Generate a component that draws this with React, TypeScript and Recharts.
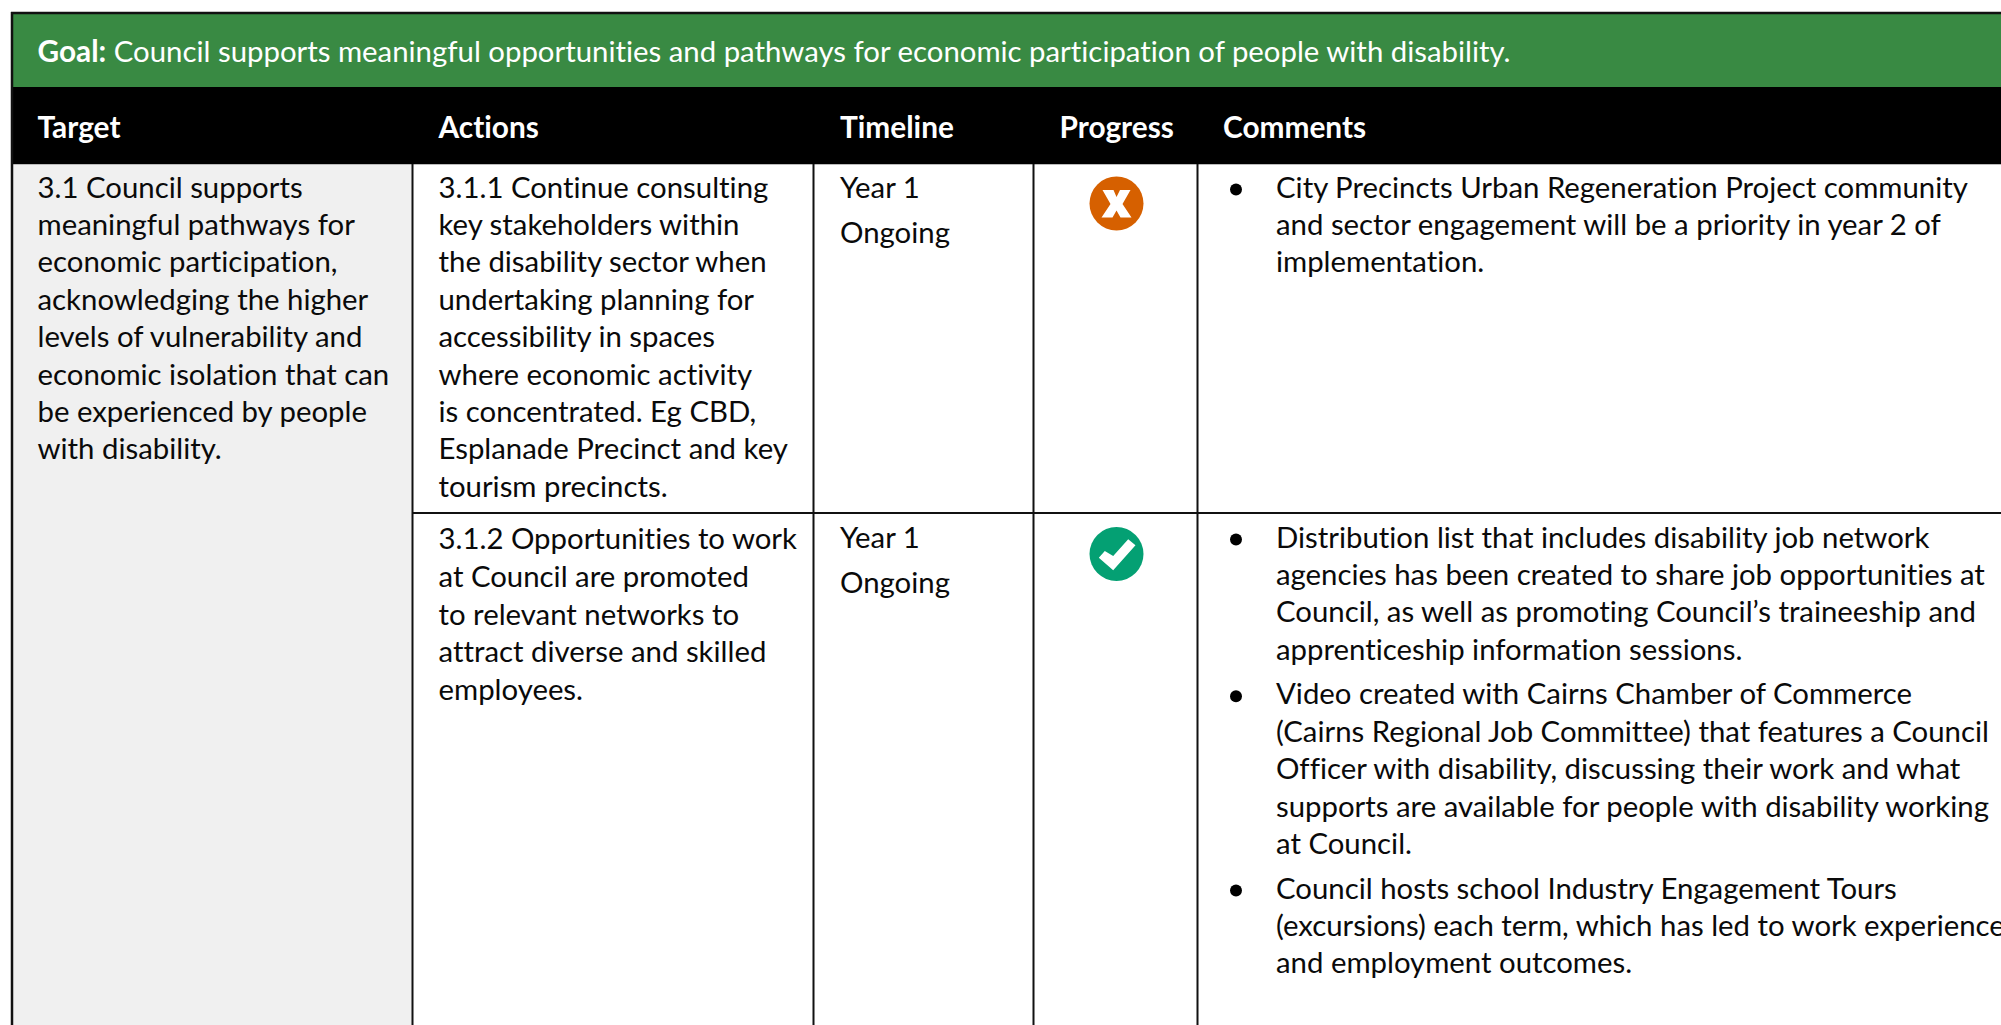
import React from 'react';
import { ScatterChart, Scatter, XAxis, YAxis, ReferenceArea, ReferenceLine } from 'recharts';

const WIDTH = 2001;
const HEIGHT = 1025;

// table content
const goalLabel = 'Goal:';
const goalText = ' Council supports meaningful opportunities and pathways for economic participation of people with disability.';
const headers = ['Target', 'Actions', 'Timeline', 'Progress', 'Comments'];

const targetLines = [
    '3.1 Council supports',
    'meaningful pathways for',
    'economic participation,',
    'acknowledging the higher',
    'levels of vulnerability and',
    'economic isolation that can',
    'be experienced by people',
    'with disability.',
];
const actionLines1 = [
    '3.1.1 Continue consulting',
    'key stakeholders within',
    'the disability sector when',
    'undertaking planning for',
    'accessibility in spaces',
    'where economic activity',
    'is concentrated. Eg CBD,',
    'Esplanade Precinct and key',
    'tourism precincts.',
];
const actionLines2 = [
    '3.1.2 Opportunities to work',
    'at Council are promoted',
    'to relevant networks to',
    'attract diverse and skilled',
    'employees.',
];
const timelineLines = ['Year 1', 'Ongoing'];
const progressStatus = ['missed', 'done'];
const comments1 = [
    [
        'City Precincts Urban Regeneration Project community',
        'and sector engagement will be a priority in year 2 of',
        'implementation.',
    ],
];
const comments2 = [
    [
        'Distribution list that includes disability job network',
        'agencies has been created to share job opportunities at',
        'Council, as well as promoting Council’s traineeship and',
        'apprenticeship information sessions.',
    ],
    [
        'Video created with Cairns Chamber of Commerce',
        '(Cairns Regional Job Committee) that features a Council',
        'Officer with disability, discussing their work and what',
        'supports are available for people with disability working',
        'at Council.',
    ],
    [
        'Council hosts school Industry Engagement Tours',
        '(excursions) each term, which has led to work experience',
        'and employment outcomes.',
    ],
];

// layout
const COL_RULES = [412.5, 813.5, 1033.5, 1197.5];
const COL_TEXT = [37.5, 438.5, 840, 1059.5, 1223];
const COMMENT_X = 1276;
const BULLET_X = 1236;
const ICON_X = 1116.5;
const ROW_BASE = [197.5, 548];
const ACTION2_BASE = 549.3;
const COMMENT2_BASE = 547.5;
const ICON_OFFSET = 6;
const LINE = 37.4;
const ACTION2_LINE = 37.6;
const TIMELINE_LINE = 45;
const PARA_GAP = 7.2;
const FONT = 29.35;
const HEADER_FONT = 29.8;

const GREEN = '#398a43';
const RULE = '#111111';
const NO_LIGATURES = { fontVariantLigatures: 'none' } as const;

const textBlock = (lines: string[], x: number, top: number, step: number) =>
    lines.map((text, i) => ({ x, y: top + i * step, text }));

const commentBlock = (paras: string[][], top: number) => {
    const rows: { x: number; y: number; text: string }[] = [];
    const bullets: { x: number; y: number }[] = [];
    let y = top;
    paras.forEach((para) => {
        bullets.push({ x: BULLET_X, y: y - 8 });
        para.forEach((text) => {
            rows.push({ x: COMMENT_X, y, text });
            y += LINE;
        });
        y += PARA_GAP;
    });
    return { rows, bullets };
};

const c1 = commentBlock(comments1, ROW_BASE[0]);
const c2 = commentBlock(comments2, COMMENT2_BASE);

const bodyRows = [
    ...textBlock(targetLines, COL_TEXT[0], ROW_BASE[0], LINE),
    ...textBlock(actionLines1, COL_TEXT[1], ROW_BASE[0], LINE),
    ...textBlock(actionLines2, COL_TEXT[1], ACTION2_BASE, ACTION2_LINE),
    ...textBlock(timelineLines, COL_TEXT[2], ROW_BASE[0], TIMELINE_LINE),
    ...textBlock(timelineLines, COL_TEXT[2], ROW_BASE[1], TIMELINE_LINE),
    ...c1.rows,
    ...c2.rows,
];
const bullets = [...c1.bullets, ...c2.bullets];
const headerRows = headers.map((text, i) => ({ x: COL_TEXT[i], y: 137.5, text }));
const goalRow = [{ x: COL_TEXT[0], y: 61.5, text: goalText }];
const iconRows = progressStatus.map((status, i) => ({
    x: ICON_X,
    y: ROW_BASE[i] + ICON_OFFSET,
    status,
}));

const BodyText = (props: any) => (
    <text x={props.cx} y={props.cy} fontFamily="Lato" fontSize={FONT} fill="#0a0a0a" style={NO_LIGATURES}>
        {props.payload.text}
    </text>
);

const HeaderText = (props: any) => (
    <text x={props.cx} y={props.cy} fontFamily="Lato" fontSize={HEADER_FONT} fontWeight={700} fill="#ffffff" style={NO_LIGATURES}>
        {props.payload.text}
    </text>
);

const GoalText = (props: any) => (
    <text x={props.cx} y={props.cy} fontFamily="Lato" fontSize={FONT} fill="#ffffff" xmlSpace="preserve" style={NO_LIGATURES}>
        <tspan fontWeight={700} fontSize={HEADER_FONT}>{goalLabel}</tspan>
        <tspan>{props.payload.text}</tspan>
    </text>
);

const Bullet = (props: any) => <circle cx={props.cx} cy={props.cy} r={6} fill="#000000" />;

const StatusIcon = (props: any) => {
    const done = props.payload.status === 'done';
    return (
        <g transform={`translate(${props.cx},${props.cy})`}>
            <circle r={27} fill={done ? '#04a073' : '#d66000'} />
            {done ? (
                <path d="M-17.7 3.7L-3.3 16.3L19 -8.7L11.7 -14.7L-3.3 2L-11.7 -3Z" fill="#ffffff" />
            ) : (
                <path
                    d="M-14 -13.5L-3 -13.5L0 -6.5L3.5 -13.5L14 -13.5L6 0.5L15 14L4 14L0 7L-4 14L-15 14L-6 0.5Z"
                    fill="#ffffff"
                />
            )}
        </g>
    );
};

export default function App() {
    return (
        <div style={{ position: 'absolute', left: 0, top: 0, width: WIDTH, height: HEIGHT, background: '#ffffff' }}>
            <ScatterChart width={WIDTH} height={HEIGHT} margin={{ top: 0, right: 0, bottom: 0, left: 0 }}>
                <XAxis type="number" dataKey="x" domain={[0, WIDTH]} hide />
                <YAxis type="number" dataKey="y" domain={[0, HEIGHT]} reversed hide />

                <ReferenceArea x1={12} x2={WIDTH} y1={13} y2={87} fill={GREEN} fillOpacity={1} stroke="none" />
                <ReferenceArea x1={12} x2={WIDTH} y1={87} y2={164} fill="#000000" fillOpacity={1} stroke="none" />
                <ReferenceArea x1={12} x2={COL_RULES[0]} y1={164} y2={HEIGHT} fill="#f0f0f0" fillOpacity={1} stroke="none" />

                <ReferenceLine segment={[{ x: 12, y: 164.5 }, { x: WIDTH, y: 164.5 }]} stroke="#bbbbbb" strokeWidth={1} />
                <ReferenceLine segment={[{ x: 11, y: 13 }, { x: WIDTH, y: 13 }]} stroke={RULE} strokeWidth={2.5} />
                <ReferenceLine segment={[{ x: 12, y: 12 }, { x: 12, y: HEIGHT }]} stroke={RULE} strokeWidth={2.5} />
                <ReferenceLine segment={[{ x: COL_RULES[0], y: 513 }, { x: WIDTH, y: 513 }]} stroke={RULE} strokeWidth={2} />
                {COL_RULES.map((x) => (
                    <ReferenceLine key={x} segment={[{ x, y: 164 }, { x, y: HEIGHT }]} stroke={RULE} strokeWidth={2} />
                ))}

                <Scatter data={goalRow} shape={GoalText} isAnimationActive={false} />
                <Scatter data={headerRows} shape={HeaderText} isAnimationActive={false} />
                <Scatter data={bodyRows} shape={BodyText} isAnimationActive={false} />
                <Scatter data={bullets} shape={Bullet} isAnimationActive={false} />
                <Scatter data={iconRows} shape={StatusIcon} isAnimationActive={false} />
            </ScatterChart>
        </div>
    );
}
